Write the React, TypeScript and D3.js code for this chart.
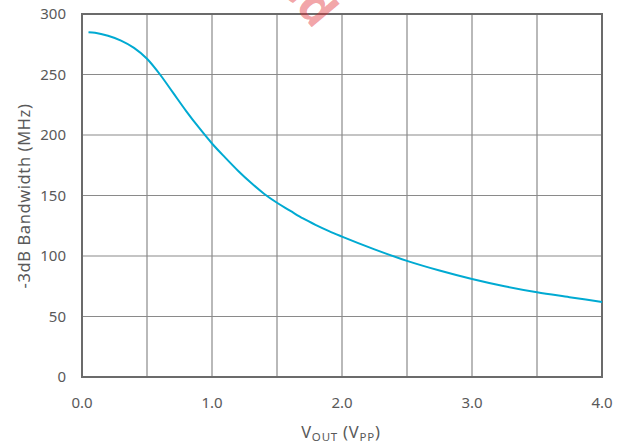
import React from "react";
import * as d3 from "d3";

const vout = [0.05, 0.1, 0.2, 0.3, 0.4, 0.5, 0.6, 0.7, 0.8, 0.9, 1.0, 1.1, 1.2, 1.3, 1.4, 1.5, 1.6, 1.7, 1.8, 1.9, 2.0, 2.25, 2.5, 2.75, 3.0, 3.25, 3.5, 3.75, 4.0];
const bandwidth = [285, 284.5, 282, 278, 272, 263, 250, 235, 220, 206, 193, 181.5, 170.5, 160.5, 151.5, 144, 137.5, 131, 125.5, 120.5, 116, 105.5, 96, 88, 81, 75, 70, 66, 62];
const xTicks = [0, 1, 2, 3, 4];
const xGrid = [0, 0.5, 1, 1.5, 2, 2.5, 3, 3.5, 4];
const yTicks = [0, 50, 100, 150, 200, 250, 300];

const W = 628, H = 444;
const L = 82, R = 602, T = 14, B = 377;
const FONT = "'Noto Sans', sans-serif";

export default function App() {
  const x = d3.scaleLinear().domain([0, 4]).range([L, R]);
  const y = d3.scaleLinear().domain([0, 300]).range([B, T]);
  const line = d3.line<number>().x((_, i) => x(vout[i])).y((d) => y(d)).curve(d3.curveMonotoneX);
  return (
    <svg width={W} height={H} style={{ position: "absolute", left: 0, top: 0 }}>
      <rect width={W} height={H} fill="#fff" />
      {xGrid.map((v) => (
        <line key={"gx" + v} x1={x(v)} x2={x(v)} y1={T} y2={B} stroke="#8a8a8a" strokeWidth={1.2} />
      ))}
      {yTicks.map((v) => (
        <line key={"gy" + v} x1={L} x2={R} y1={y(v)} y2={y(v)} stroke="#8a8a8a" strokeWidth={1.2} />
      ))}
      <rect x={L} y={T} width={R - L} height={B - T} fill="none" stroke="#6b6b6b" strokeWidth={2} />
      <path d={line(bandwidth) || ""} fill="none" stroke="#00AAD2" strokeWidth={2} />
      {yTicks.map((v) => (
        <text key={"ty" + v} x={66} y={y(v) + 5} textAnchor="end" fontFamily={FONT} fontSize={15} fill="#595959">{v}</text>
      ))}
      {xTicks.map((v) => (
        <text key={"tx" + v} x={x(v)} y={408} textAnchor="middle" fontFamily={FONT} fontSize={15} fill="#595959">{v.toFixed(1)}</text>
      ))}
      <text x={341} y={438} textAnchor="middle" fontFamily={FONT} fontSize={16.5} letterSpacing={0.8} fill="#595959">
        V<tspan fontSize={11.5} dy={3}>OUT</tspan><tspan dy={-3}> (V</tspan><tspan fontSize={11.5} dy={3}>PP</tspan><tspan dy={-3}>)</tspan>
      </text>
      <text transform="translate(30,196) rotate(-90)" textAnchor="middle" fontFamily={FONT} fontSize={16.5} letterSpacing={0.6} fill="#595959">-3dB Bandwidth (MHz)</text>
      <text transform="translate(314,30) rotate(50)" textAnchor="end" fontFamily={FONT} fontWeight="bold" fontSize={48} fill="#e0242c" fillOpacity={0.42}>ed</text>
    </svg>
  );
}
